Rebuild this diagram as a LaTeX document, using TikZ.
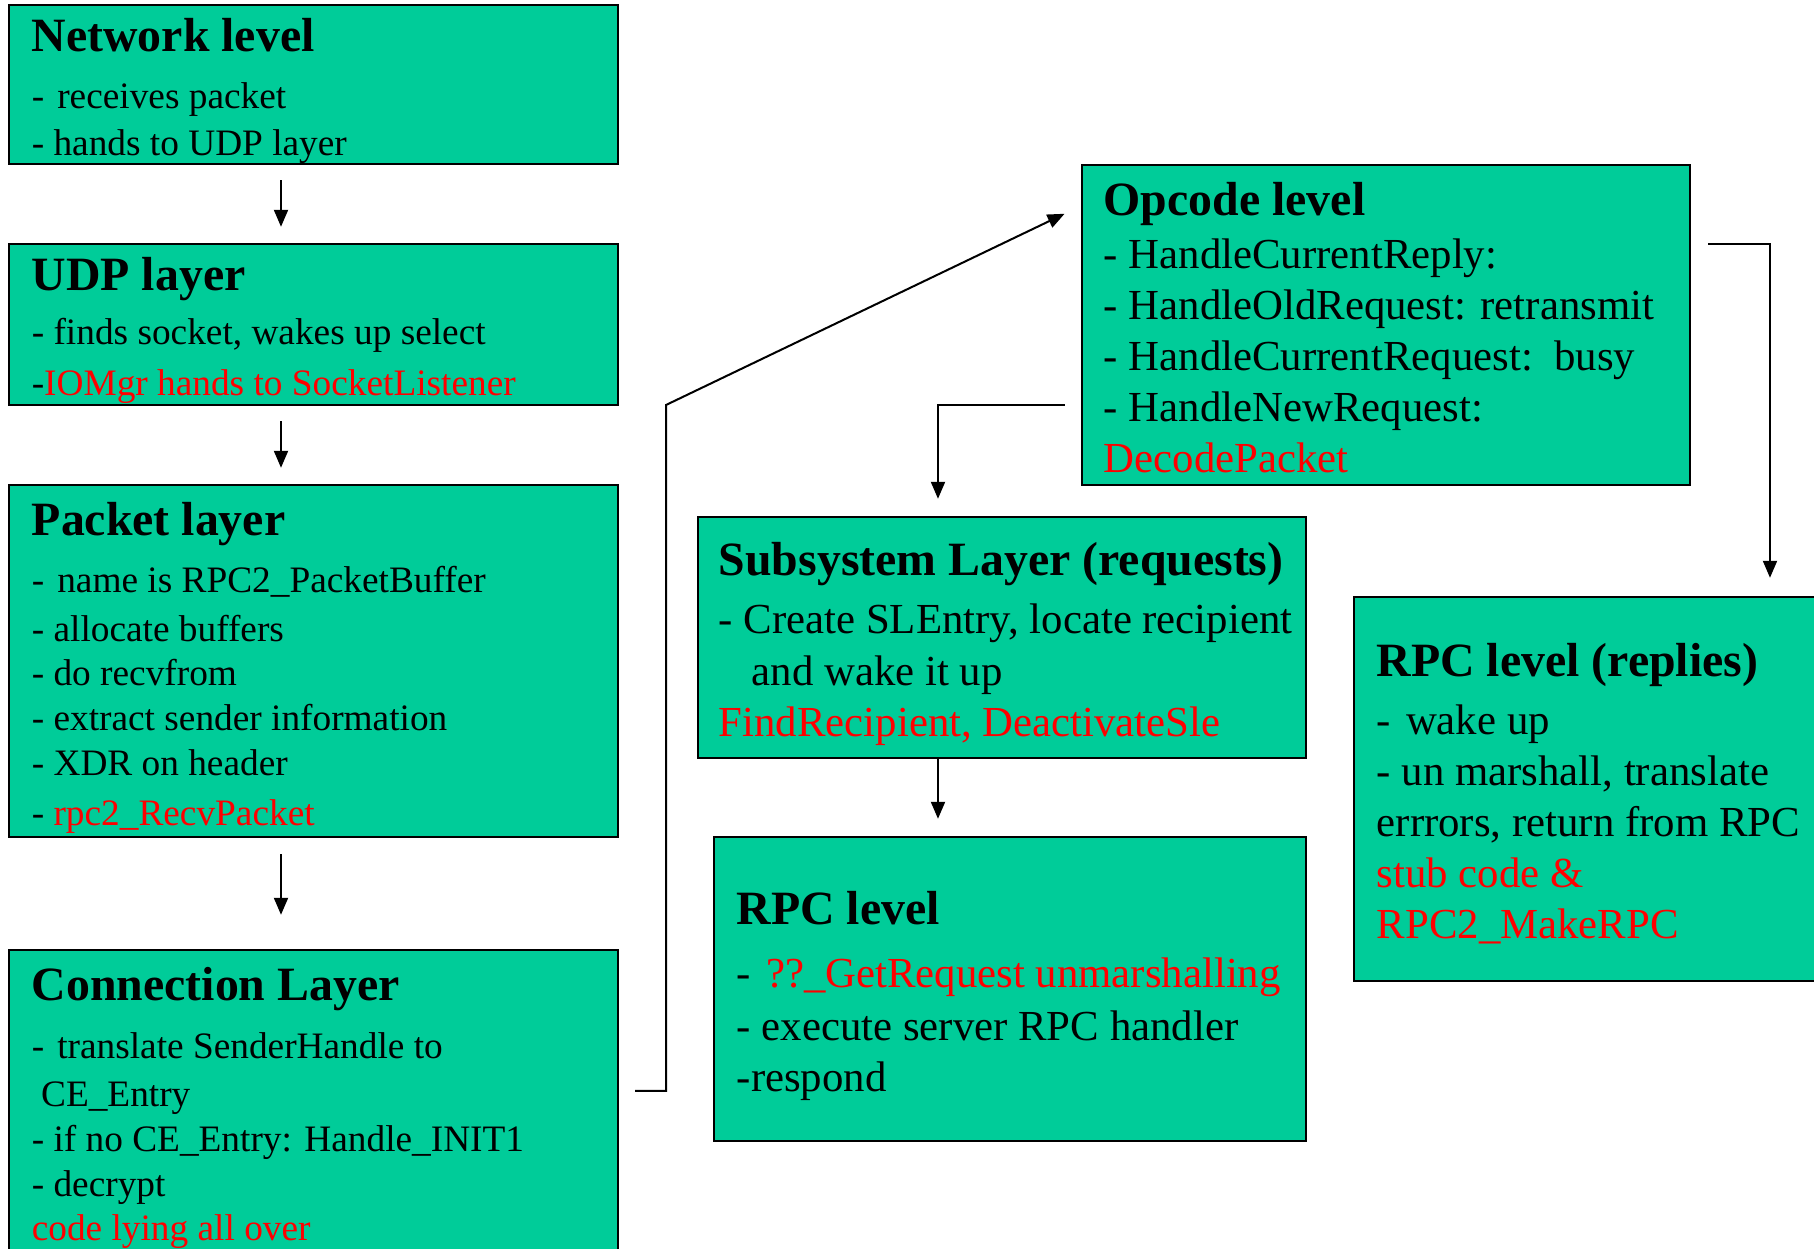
\documentclass[tikz,border=0pt]{standalone}
\usepackage{fontspec}
\setmainfont{Liberation Serif}
\usepackage{xcolor}
\usetikzlibrary{arrows.meta,calc,positioning,fit}
\definecolor{layergreen}{RGB}{0,204,153}
\definecolor{codered}{RGB}{255,0,0}
\newcommand{\code}[1]{\textcolor{codered}{#1}}
\newcommand{\dsh}{-\hspace{0.35em}}

\begin{document}
\begin{tikzpicture}[x=0.25pt, y=-0.25pt,
  layer/.style={draw, line width=0.6pt, fill=layergreen, inner sep=0pt},
  head/.style={font=\fontsize{11.95}{14}\selectfont\bfseries, anchor=base west, inner sep=0pt, yshift=-0.25pt},
  smalltxt/.style={font=\fontsize{9.33}{11}\selectfont, anchor=base west, inner sep=0pt, yshift=-0.75pt},
  bigtxt/.style={font=\fontsize{10.7}{13}\selectfont, anchor=base west, inner sep=0pt, yshift=-0.75pt},
  arr/.style={-{Triangle[length=4.25pt,width=3.5pt]}, line width=0.5pt}]
  \useasboundingbox (0,0) rectangle (1814,1249);
  \clip (0,0) rectangle (1814,1249);
  % boxes
  \node[layer, fit={(9,5) (618,164)}] (net) {};
  \node[layer, fit={(9,244) (618,405)}] (udp) {};
  \node[layer, fit={(9,485) (618,837)}] (pkt) {};
  \node[layer, fit={(9,950) (618,1262)}] (conn) {};
  \node[layer, fit={(1082,165) (1690,485)}] (opc) {};
  \node[layer, fit={(698,517) (1306,758)}] (sub) {};
  \node[layer, fit={(714,837) (1306,1141)}] (rpc) {};
  \node[layer, fit={(1354,597) (1830,981)}] (rep) {};
  % left column
  \node[head] (net-h) at (31,51) {Network level};
  \foreach \yy/\txt [count=\i] in {106/{\dsh receives packet}, 153/{- hands to UDP layer}}
    \node[smalltxt] (net-\i) at (31,\yy) {\txt};
  \node[head] (udp-h) at (31,290) {UDP layer};
  \foreach \yy/\txt [count=\i] in {342/{- finds socket, wakes up select},
      393/{-\code{IOMgr hands to SocketListener}}}
    \node[smalltxt] (udp-\i) at (31,\yy) {\txt};
  \node[head] (pkt-h) at (31,535) {Packet layer};
  \foreach \yy/\txt [count=\i] in {590/{\dsh name is RPC2\_PacketBuffer}, 639/{- allocate buffers},
      683/{- do recvfrom}, 728/{- extract sender information}, 773/{- XDR on header},
      823/{- \code{rpc2\_RecvPacket}}}
    \node[smalltxt] (pkt-\i) at (31,\yy) {\txt};
  \node[head] (conn-h) at (31,1000) {Connection Layer};
  \foreach \yy/\txt [count=\i] in {1056/{\dsh translate SenderHandle to}, 1104/{\ CE\_Entry},
      1149/{- if no CE\_Entry: Handle\_INIT1}, 1194/{- decrypt}, 1238/{\code{code lying all over}}}
    \node[smalltxt] (conn-\i) at (31,\yy) {\txt};
  % middle and right
  \node[head] (opc-h) at (1103,215) {Opcode level};
  \foreach \yy/\txt [count=\i] in {266/{- HandleCurrentReply:}, 317/{- HandleOldRequest: retransmit},
      368/{- HandleCurrentRequest:\ \ busy}, 419/{- HandleNewRequest:}, 470/{\code{DecodePacket}}}
    \node[bigtxt] (opc-\i) at (1103,\yy) {\txt};
  \node[head] (sub-h) at (718,575) {Subsystem Layer (requests)};
  \foreach \yy/\txt [count=\i] in {631/{- Create SLEntry, locate recipient},
      683/{\hspace{8.25pt}and wake it up}, 734/{\code{FindRecipient, DeactivateSle}}}
    \node[bigtxt] (sub-\i) at (718,\yy) {\txt};
  \node[head] (rpc-h) at (736,924) {RPC level};
  \foreach \yy/\txt [count=\i] in {985/{\dsh\code{??\_GetRequest unmarshalling}},
      1038/{- execute server RPC handler}, 1089/{-respond}}
    \node[bigtxt] (rpc-\i) at (736,\yy) {\txt};
  \node[head] (rep-h) at (1376,676) {RPC level (replies)};
  \foreach \yy/\txt [count=\i] in {732/{\dsh wake up}, 783/{- un marshall, translate},
      834/{errrors, return from RPC}, 885/{\code{stub code \&}}, 936/{\code{RPC2\_MakeRPC}}}
    \node[bigtxt] (rep-\i) at (1376,\yy) {\txt};
  % connectors
  \coordinate (lcol) at (281,0);
  \coordinate (b1) at (666,1091);
  \coordinate (b2) at (666,405);
  \coordinate (b3) at (938,405);
  \coordinate (b4) at (1770,244);
  \draw[arr, shorten <=3.75pt, shorten >=4pt] (net.south -| lcol) -- (udp.north -| lcol);
  \draw[arr, shorten <=3.75pt, shorten >=4pt] (udp.south -| lcol) -- (pkt.north -| lcol);
  \draw[arr, shorten <=4pt, shorten >=8.5pt] (pkt.south -| lcol) -- (conn.north -| lcol);
  \draw[arr, shorten <=4pt, shorten >=4.5pt] (conn.east |- b1) -- (b1) -- (b2) -- ([yshift=29.75pt]opc.west);
  \draw[arr, shorten <=4pt, shorten >=4.25pt] (opc.west |- b3) -- (b3) -- (sub.north -| b3);
  \draw[arr, shorten >=4.25pt] (sub.south -| b3) -- (rpc.north -| b3);
  \draw[arr, shorten <=4.25pt, shorten >=4.5pt] (opc.east |- b4) -- (b4) -- (rep.north -| b4);
\end{tikzpicture}
\end{document}
